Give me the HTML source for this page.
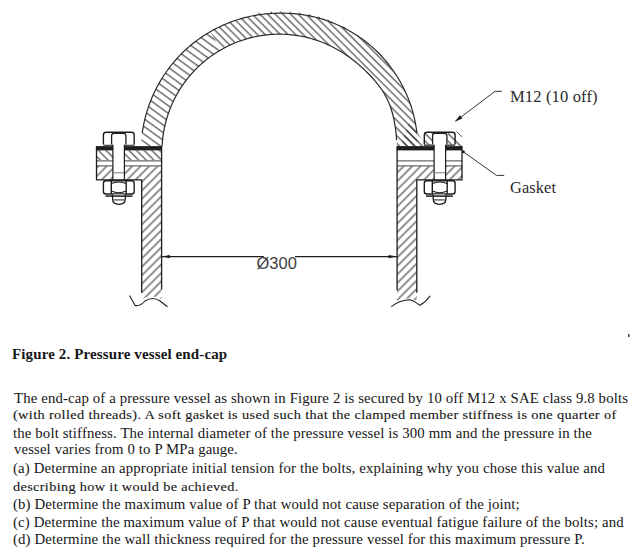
<!DOCTYPE html>
<html><head><meta charset="utf-8">
<style>
html,body{margin:0;padding:0;background:#fff;}
body{width:632px;height:558px;position:relative;overflow:hidden;}
svg{position:absolute;left:0;top:0;}
.t{position:absolute;white-space:nowrap;font-family:"Liberation Serif",serif;color:#161616;line-height:1;}
</style></head><body>
<svg width="632" height="558" viewBox="0 0 632 558">
<defs>
<pattern id="hb" patternUnits="userSpaceOnUse" width="5.4" height="20" patternTransform="rotate(-45)">
<line x1="1" y1="0" x2="1" y2="20" stroke="#262626" stroke-width="1.0"/>
</pattern>
<pattern id="hf" patternUnits="userSpaceOnUse" width="6.0" height="20" patternTransform="rotate(45)">
<line x1="1" y1="0" x2="1" y2="20" stroke="#262626" stroke-width="1.0"/>
</pattern>
<pattern id="hb2" patternUnits="userSpaceOnUse" width="6.2" height="20" patternTransform="rotate(-54)">
<line x1="1" y1="0" x2="1" y2="20" stroke="#262626" stroke-width="1.0"/>
</pattern>
</defs>

<clipPath id="cl"><polygon points="0,0 192,0 279.4,151.6 0,200"/></clipPath><clipPath id="cr"><polygon points="192,0 632,0 632,200 279.4,151.6"/></clipPath>
<path d="M141.11,146.20 L141.19,144.36 L141.34,141.95 L141.53,139.54 L141.76,137.13 L142.03,134.73 L142.35,132.34 L142.70,129.95 L143.10,127.57 L143.54,125.19 L144.02,122.83 L144.55,120.47 L145.11,118.12 L145.72,115.78 L146.36,113.45 L147.05,111.14 L147.77,108.83 L148.54,106.54 L149.35,104.26 L150.19,102.00 L151.08,99.75 L152.00,97.52 L152.97,95.31 L153.97,93.11 L155.01,90.93 L156.08,88.77 L157.20,86.63 L158.35,84.50 L159.54,82.40 L160.77,80.32 L162.03,78.26 L163.33,76.22 L164.66,74.21 L166.03,72.22 L167.43,70.25 L168.87,68.31 L170.34,66.39 L171.84,64.50 L173.38,62.64 L174.95,60.80 L176.55,58.99 L178.18,57.21 L179.84,55.46 L181.54,53.74 L183.26,52.04 L185.01,50.38 L186.79,48.75 L188.60,47.15 L190.44,45.58 L192.30,44.04 L194.19,42.54 L196.11,41.07 L198.05,39.63 L200.02,38.23 L202.01,36.86 L204.02,35.53 L206.06,34.23 L208.12,32.97 L210.20,31.74 L212.30,30.55 L214.43,29.40 L216.57,28.28 L218.73,27.21 L220.91,26.17 L223.11,25.17 L225.32,24.20 L227.55,23.28 L229.80,22.39 L232.06,21.55 L234.34,20.74 L236.63,19.97 L238.94,19.25 L241.25,18.56 L243.58,17.92 L245.92,17.31 L248.27,16.75 L250.63,16.22 L252.99,15.74 L255.37,15.30 L257.75,14.90 L260.14,14.55 L262.53,14.23 L264.93,13.96 L267.34,13.73 L269.75,13.54 L272.16,13.39 L274.57,13.28 L276.98,13.22 L279.40,13.20 L281.82,13.17 L284.23,13.19 L286.65,13.25 L289.07,13.34 L291.48,13.49 L293.90,13.67 L296.31,13.90 L298.71,14.17 L301.12,14.48 L303.52,14.84 L305.91,15.23 L308.29,15.67 L310.67,16.16 L313.04,16.68 L315.40,17.25 L317.75,17.86 L320.09,18.51 L322.42,19.20 L324.74,19.93 L327.04,20.71 L329.33,21.53 L331.61,22.39 L333.87,23.29 L336.11,24.23 L338.34,25.21 L340.55,26.23 L342.74,27.29 L344.91,28.39 L347.07,29.53 L349.20,30.70 L351.31,31.92 L353.40,33.18 L355.47,34.47 L357.51,35.80 L359.53,37.16 L361.52,38.57 L363.49,40.01 L365.43,41.48 L367.35,42.99 L369.24,44.54 L371.10,46.11 L372.93,47.73 L374.73,49.37 L376.50,51.05 L378.24,52.76 L379.95,54.50 L381.63,56.27 L383.27,58.07 L384.89,59.90 L386.46,61.76 L388.01,63.65 L389.52,65.57 L390.99,67.51 L392.43,69.48 L393.84,71.47 L395.20,73.49 L396.53,75.53 L397.82,77.60 L399.08,79.69 L400.30,81.80 L401.47,83.93 L402.61,86.09 L403.71,88.26 L404.77,90.45 L405.79,92.66 L406.77,94.89 L407.71,97.13 L408.61,99.39 L409.47,101.67 L410.29,103.96 L411.07,106.26 L411.80,108.58 L412.49,110.91 L413.14,113.25 L413.75,115.60 L414.32,117.96 L414.84,120.33 L415.33,122.71 L415.77,125.09 L416.16,127.48 L416.52,129.88 L416.83,132.29 L417.10,134.69 L417.33,137.10 L417.51,139.52 L417.66,141.93 L417.75,144.35 L417.69,146.20 L396.68,146.20 L396.87,145.44 L396.80,143.39 L396.70,141.34 L396.57,139.28 L396.42,137.23 L396.24,135.18 L396.03,133.13 L395.79,131.08 L395.53,129.03 L395.24,126.98 L394.92,124.93 L394.57,122.88 L394.19,120.84 L393.77,118.80 L393.32,116.77 L392.82,114.75 L392.28,112.73 L391.69,110.73 L391.06,108.74 L390.38,106.76 L389.65,104.80 L388.86,102.86 L388.03,100.95 L387.13,99.05 L386.19,97.19 L385.20,95.35 L384.15,93.53 L383.06,91.75 L381.92,90.00 L380.74,88.27 L379.52,86.58 L378.27,84.91 L376.98,83.28 L375.66,81.66 L374.31,80.08 L372.94,78.52 L371.54,76.99 L370.12,75.47 L368.69,73.98 L367.23,72.52 L365.76,71.07 L364.27,69.64 L362.76,68.24 L361.24,66.85 L359.70,65.49 L358.15,64.14 L356.58,62.82 L354.99,61.52 L353.38,60.24 L351.75,58.99 L350.11,57.76 L348.45,56.56 L346.77,55.38 L345.07,54.23 L343.36,53.11 L341.63,52.02 L339.88,50.95 L338.11,49.92 L336.32,48.91 L334.52,47.94 L332.70,46.99 L330.87,46.08 L329.02,45.20 L327.15,44.35 L325.27,43.53 L323.38,42.75 L321.47,42.00 L319.55,41.28 L317.62,40.60 L315.68,39.95 L313.72,39.33 L311.76,38.75 L309.79,38.20 L307.80,37.69 L305.81,37.21 L303.81,36.77 L301.80,36.36 L299.79,35.98 L297.77,35.65 L295.74,35.34 L293.71,35.08 L291.67,34.84 L289.63,34.65 L287.59,34.49 L285.54,34.36 L283.50,34.27 L281.45,34.22 L279.40,34.20 L277.35,34.22 L275.30,34.27 L273.26,34.36 L271.21,34.49 L269.17,34.65 L267.13,34.84 L265.09,35.08 L263.06,35.34 L261.03,35.65 L259.01,35.98 L257.00,36.36 L254.99,36.77 L252.99,37.21 L251.00,37.69 L249.01,38.20 L247.04,38.75 L245.08,39.33 L243.12,39.95 L241.18,40.60 L239.25,41.28 L237.33,42.00 L235.42,42.75 L233.53,43.53 L231.65,44.35 L229.78,45.20 L227.94,46.08 L226.10,47.00 L224.28,47.94 L222.48,48.92 L220.70,49.93 L218.93,50.97 L217.19,52.04 L215.46,53.14 L213.75,54.27 L212.06,55.43 L210.39,56.62 L208.75,57.84 L207.12,59.09 L205.52,60.36 L203.94,61.67 L202.38,63.00 L200.84,64.35 L199.33,65.74 L197.85,67.15 L196.39,68.59 L194.95,70.05 L193.54,71.53 L192.15,73.04 L190.80,74.58 L189.47,76.14 L188.16,77.72 L186.89,79.32 L185.64,80.95 L184.42,82.59 L183.23,84.26 L182.07,85.95 L180.94,87.66 L179.84,89.39 L178.77,91.13 L177.73,92.90 L176.72,94.68 L175.74,96.48 L174.80,98.30 L173.88,100.14 L173.00,101.98 L172.15,103.85 L171.33,105.73 L170.55,107.62 L169.80,109.53 L169.08,111.45 L168.40,113.38 L167.75,115.32 L167.13,117.28 L166.55,119.24 L166.00,121.21 L165.49,123.20 L165.01,125.19 L164.57,127.19 L164.16,129.20 L163.78,131.21 L163.45,133.23 L163.14,135.26 L162.88,137.29 L162.64,139.33 L162.45,141.37 L162.29,143.41 L162.16,145.46 L162.12,146.20 Z" fill="url(#hb2)" clip-path="url(#cl)"/>
<path d="M141.11,146.20 L141.19,144.36 L141.34,141.95 L141.53,139.54 L141.76,137.13 L142.03,134.73 L142.35,132.34 L142.70,129.95 L143.10,127.57 L143.54,125.19 L144.02,122.83 L144.55,120.47 L145.11,118.12 L145.72,115.78 L146.36,113.45 L147.05,111.14 L147.77,108.83 L148.54,106.54 L149.35,104.26 L150.19,102.00 L151.08,99.75 L152.00,97.52 L152.97,95.31 L153.97,93.11 L155.01,90.93 L156.08,88.77 L157.20,86.63 L158.35,84.50 L159.54,82.40 L160.77,80.32 L162.03,78.26 L163.33,76.22 L164.66,74.21 L166.03,72.22 L167.43,70.25 L168.87,68.31 L170.34,66.39 L171.84,64.50 L173.38,62.64 L174.95,60.80 L176.55,58.99 L178.18,57.21 L179.84,55.46 L181.54,53.74 L183.26,52.04 L185.01,50.38 L186.79,48.75 L188.60,47.15 L190.44,45.58 L192.30,44.04 L194.19,42.54 L196.11,41.07 L198.05,39.63 L200.02,38.23 L202.01,36.86 L204.02,35.53 L206.06,34.23 L208.12,32.97 L210.20,31.74 L212.30,30.55 L214.43,29.40 L216.57,28.28 L218.73,27.21 L220.91,26.17 L223.11,25.17 L225.32,24.20 L227.55,23.28 L229.80,22.39 L232.06,21.55 L234.34,20.74 L236.63,19.97 L238.94,19.25 L241.25,18.56 L243.58,17.92 L245.92,17.31 L248.27,16.75 L250.63,16.22 L252.99,15.74 L255.37,15.30 L257.75,14.90 L260.14,14.55 L262.53,14.23 L264.93,13.96 L267.34,13.73 L269.75,13.54 L272.16,13.39 L274.57,13.28 L276.98,13.22 L279.40,13.20 L281.82,13.17 L284.23,13.19 L286.65,13.25 L289.07,13.34 L291.48,13.49 L293.90,13.67 L296.31,13.90 L298.71,14.17 L301.12,14.48 L303.52,14.84 L305.91,15.23 L308.29,15.67 L310.67,16.16 L313.04,16.68 L315.40,17.25 L317.75,17.86 L320.09,18.51 L322.42,19.20 L324.74,19.93 L327.04,20.71 L329.33,21.53 L331.61,22.39 L333.87,23.29 L336.11,24.23 L338.34,25.21 L340.55,26.23 L342.74,27.29 L344.91,28.39 L347.07,29.53 L349.20,30.70 L351.31,31.92 L353.40,33.18 L355.47,34.47 L357.51,35.80 L359.53,37.16 L361.52,38.57 L363.49,40.01 L365.43,41.48 L367.35,42.99 L369.24,44.54 L371.10,46.11 L372.93,47.73 L374.73,49.37 L376.50,51.05 L378.24,52.76 L379.95,54.50 L381.63,56.27 L383.27,58.07 L384.89,59.90 L386.46,61.76 L388.01,63.65 L389.52,65.57 L390.99,67.51 L392.43,69.48 L393.84,71.47 L395.20,73.49 L396.53,75.53 L397.82,77.60 L399.08,79.69 L400.30,81.80 L401.47,83.93 L402.61,86.09 L403.71,88.26 L404.77,90.45 L405.79,92.66 L406.77,94.89 L407.71,97.13 L408.61,99.39 L409.47,101.67 L410.29,103.96 L411.07,106.26 L411.80,108.58 L412.49,110.91 L413.14,113.25 L413.75,115.60 L414.32,117.96 L414.84,120.33 L415.33,122.71 L415.77,125.09 L416.16,127.48 L416.52,129.88 L416.83,132.29 L417.10,134.69 L417.33,137.10 L417.51,139.52 L417.66,141.93 L417.75,144.35 L417.69,146.20 L396.68,146.20 L396.87,145.44 L396.80,143.39 L396.70,141.34 L396.57,139.28 L396.42,137.23 L396.24,135.18 L396.03,133.13 L395.79,131.08 L395.53,129.03 L395.24,126.98 L394.92,124.93 L394.57,122.88 L394.19,120.84 L393.77,118.80 L393.32,116.77 L392.82,114.75 L392.28,112.73 L391.69,110.73 L391.06,108.74 L390.38,106.76 L389.65,104.80 L388.86,102.86 L388.03,100.95 L387.13,99.05 L386.19,97.19 L385.20,95.35 L384.15,93.53 L383.06,91.75 L381.92,90.00 L380.74,88.27 L379.52,86.58 L378.27,84.91 L376.98,83.28 L375.66,81.66 L374.31,80.08 L372.94,78.52 L371.54,76.99 L370.12,75.47 L368.69,73.98 L367.23,72.52 L365.76,71.07 L364.27,69.64 L362.76,68.24 L361.24,66.85 L359.70,65.49 L358.15,64.14 L356.58,62.82 L354.99,61.52 L353.38,60.24 L351.75,58.99 L350.11,57.76 L348.45,56.56 L346.77,55.38 L345.07,54.23 L343.36,53.11 L341.63,52.02 L339.88,50.95 L338.11,49.92 L336.32,48.91 L334.52,47.94 L332.70,46.99 L330.87,46.08 L329.02,45.20 L327.15,44.35 L325.27,43.53 L323.38,42.75 L321.47,42.00 L319.55,41.28 L317.62,40.60 L315.68,39.95 L313.72,39.33 L311.76,38.75 L309.79,38.20 L307.80,37.69 L305.81,37.21 L303.81,36.77 L301.80,36.36 L299.79,35.98 L297.77,35.65 L295.74,35.34 L293.71,35.08 L291.67,34.84 L289.63,34.65 L287.59,34.49 L285.54,34.36 L283.50,34.27 L281.45,34.22 L279.40,34.20 L277.35,34.22 L275.30,34.27 L273.26,34.36 L271.21,34.49 L269.17,34.65 L267.13,34.84 L265.09,35.08 L263.06,35.34 L261.03,35.65 L259.01,35.98 L257.00,36.36 L254.99,36.77 L252.99,37.21 L251.00,37.69 L249.01,38.20 L247.04,38.75 L245.08,39.33 L243.12,39.95 L241.18,40.60 L239.25,41.28 L237.33,42.00 L235.42,42.75 L233.53,43.53 L231.65,44.35 L229.78,45.20 L227.94,46.08 L226.10,47.00 L224.28,47.94 L222.48,48.92 L220.70,49.93 L218.93,50.97 L217.19,52.04 L215.46,53.14 L213.75,54.27 L212.06,55.43 L210.39,56.62 L208.75,57.84 L207.12,59.09 L205.52,60.36 L203.94,61.67 L202.38,63.00 L200.84,64.35 L199.33,65.74 L197.85,67.15 L196.39,68.59 L194.95,70.05 L193.54,71.53 L192.15,73.04 L190.80,74.58 L189.47,76.14 L188.16,77.72 L186.89,79.32 L185.64,80.95 L184.42,82.59 L183.23,84.26 L182.07,85.95 L180.94,87.66 L179.84,89.39 L178.77,91.13 L177.73,92.90 L176.72,94.68 L175.74,96.48 L174.80,98.30 L173.88,100.14 L173.00,101.98 L172.15,103.85 L171.33,105.73 L170.55,107.62 L169.80,109.53 L169.08,111.45 L168.40,113.38 L167.75,115.32 L167.13,117.28 L166.55,119.24 L166.00,121.21 L165.49,123.20 L165.01,125.19 L164.57,127.19 L164.16,129.20 L163.78,131.21 L163.45,133.23 L163.14,135.26 L162.88,137.29 L162.64,139.33 L162.45,141.37 L162.29,143.41 L162.16,145.46 L162.12,146.20 Z" fill="url(#hb)" clip-path="url(#cr)"/>
<polygon points="410,120 415.7,129.7 424.8,143.6 424.8,146.2 400,146.2" fill="url(#hb)"/>
<rect x="425" y="133" width="8.3" height="13" fill="url(#hb)"/>
<rect x="447.5" y="133" width="7.5" height="13" fill="url(#hb)"/>
<polygon points="455,136 462,143 462,146.2 455,146.2" fill="url(#hb)"/>
<rect x="96.5" y="150.3" width="65" height="9.9" fill="url(#hb)"/>
<rect x="96.5" y="166" width="65" height="13.8" fill="url(#hf)"/>
<rect x="397" y="166" width="65.2" height="13.8" fill="url(#hf)"/>
<path d="M141.7,179.8 H161.4 V289 L161.4,299 Q158,297 153,296.6 Q147,296.6 141.7,299 Z" fill="url(#hf)"/>
<path d="M397.1,179.8 H416.8 V301 Q410,297.5 403,299 L397.1,301 Z" fill="url(#hf)"/>
<path d="M96.5,160.8 H161.4 M96.5,165.8 H161.4 M397.1,160.8 H462 M397.1,165.8 H462" stroke="#6a6a6a" stroke-width="1.2" fill="none"/>
<rect x="96.5" y="146.1" width="65.2" height="4.3" fill="#1f1f1f"/><rect x="103.5" y="144.4" width="31" height="1.8" fill="#555"/>
<g transform="matrix(-1,0,0,1,558.5,0)"><rect x="96.5" y="146.1" width="65.2" height="4.3" fill="#1f1f1f"/><rect x="103.5" y="144.4" width="31" height="1.8" fill="#555"/></g>
<g fill="none" stroke="#1c1c1c" stroke-width="1.3">
<rect x="113" y="144" width="11.3" height="35.5" fill="#fff" stroke="none"/>
<path d="M112.9,144.4 V179.8 M124.4,144.4 V179.8" stroke-width="1.2"/>
<path d="M113.2,172.8 H124.1" stroke="#808080" stroke-width="1.1"/>
<path d="M103.4,144.6 V134.9 Q103.4,132.2 106.1,132.2 H131.5 Q134.2,132.2 134.2,134.9 V144.6" fill="#fff" stroke-width="1.4"/>
<path d="M111.6,144.6 V135.6 Q111.6,133.3 114,133.3 H123.5 Q125.9,133.3 125.9,135.6 V144.6" stroke-width="1.3"/>
<path d="M103.4,183.2 Q103.4,180.7 105.9,180.7 H131.7 Q134.2,180.7 134.2,183.2 V191.5 Q134.2,194 131.7,194 H105.9 Q103.4,194 103.4,191.5 Z" fill="#fff" stroke-width="1.4"/>
<path d="M111.3,181 V193.7 M126.2,181 V193.7" stroke-width="1.4"/>
<path d="M111.3,183.6 Q118.75,180.4 126.2,183.6 M111.3,191.1 Q118.75,194.3 126.2,191.1" stroke-width="1.1"/>
<path d="M112.6,194.5 V199 Q112.6,204.3 118.9,204.3 Q125.3,204.3 125.3,199 V194.5" fill="#fff" stroke-width="1.3"/>
<path d="M105.6,196.1 H132.5" stroke-width="1.5"/>
<path d="M113.2,199.9 H124.6" stroke="#555" stroke-width="1.3"/>
</g>
<g transform="matrix(-1,0,0,1,558.5,0)"><g fill="none" stroke="#1c1c1c" stroke-width="1.3">
<rect x="113" y="144" width="11.3" height="35.5" fill="#fff" stroke="none"/>
<path d="M112.9,144.4 V179.8 M124.4,144.4 V179.8" stroke-width="1.2"/>
<path d="M113.2,172.8 H124.1" stroke="#808080" stroke-width="1.1"/>
<path d="M103.4,144.6 V134.9 Q103.4,132.2 106.1,132.2 H131.5 Q134.2,132.2 134.2,134.9 V144.6" fill="none" stroke-width="1.4"/>
<path fill="#fff" d="M111.6,144.6 V135.6 Q111.6,133.3 114,133.3 H123.5 Q125.9,133.3 125.9,135.6 V144.6" stroke-width="1.3"/>
<path d="M103.4,183.2 Q103.4,180.7 105.9,180.7 H131.7 Q134.2,180.7 134.2,183.2 V191.5 Q134.2,194 131.7,194 H105.9 Q103.4,194 103.4,191.5 Z" fill="#fff" stroke-width="1.4"/>
<path d="M111.3,181 V193.7 M126.2,181 V193.7" stroke-width="1.4"/>
<path d="M111.3,183.6 Q118.75,180.4 126.2,183.6 M111.3,191.1 Q118.75,194.3 126.2,191.1" stroke-width="1.1"/>
<path d="M112.6,194.5 V199 Q112.6,204.3 118.9,204.3 Q125.3,204.3 125.3,199 V194.5" fill="#fff" stroke-width="1.3"/>
<path d="M105.6,196.1 H132.5" stroke-width="1.5"/>
<path d="M113.2,199.9 H124.6" stroke="#555" stroke-width="1.3"/>
</g></g>
<g fill="none" stroke="#1c1c1c" stroke-width="1.3">
<path d="M142.26,133.00 L142.35,132.34 L142.70,129.95 L143.10,127.57 L143.54,125.19 L144.02,122.83 L144.55,120.47 L145.11,118.12 L145.72,115.78 L146.36,113.45 L147.05,111.14 L147.77,108.83 L148.54,106.54 L149.35,104.26 L150.19,102.00 L151.08,99.75 L152.00,97.52 L152.97,95.31 L153.97,93.11 L155.01,90.93 L156.08,88.77 L157.20,86.63 L158.35,84.50 L159.54,82.40 L160.77,80.32 L162.03,78.26 L163.33,76.22 L164.66,74.21 L166.03,72.22 L167.43,70.25 L168.87,68.31 L170.34,66.39 L171.84,64.50 L173.38,62.64 L174.95,60.80 L176.55,58.99 L178.18,57.21 L179.84,55.46 L181.54,53.74 L183.26,52.04 L185.01,50.38 L186.79,48.75 L188.60,47.15 L190.44,45.58 L192.30,44.04 L194.19,42.54 L196.11,41.07 L198.05,39.63 L200.02,38.23 L202.01,36.86 L204.02,35.53 L206.06,34.23 L208.12,32.97 L210.20,31.74 L212.30,30.55 L214.43,29.40 L216.57,28.28 L218.73,27.21 L220.91,26.17 L223.11,25.17 L225.32,24.20 L227.55,23.28 L229.80,22.39 L232.06,21.55 L234.34,20.74 L236.63,19.97 L238.94,19.25 L241.25,18.56 L243.58,17.92 L245.92,17.31 L248.27,16.75 L250.63,16.22 L252.99,15.74 L255.37,15.30 L257.75,14.90 L260.14,14.55 L262.53,14.23 L264.93,13.96 L267.34,13.73 L269.75,13.54 L272.16,13.39 L274.57,13.28 L276.98,13.22 L279.40,13.20 L281.82,13.17 L284.23,13.19 L286.65,13.25 L289.07,13.34 L291.48,13.49 L293.90,13.67 L296.31,13.90 L298.71,14.17 L301.12,14.48 L303.52,14.84 L305.91,15.23 L308.29,15.67 L310.67,16.16 L313.04,16.68 L315.40,17.25 L317.75,17.86 L320.09,18.51 L322.42,19.20 L324.74,19.93 L327.04,20.71 L329.33,21.53 L331.61,22.39 L333.87,23.29 L336.11,24.23 L338.34,25.21 L340.55,26.23 L342.74,27.29 L344.91,28.39 L347.07,29.53 L349.20,30.70 L351.31,31.92 L353.40,33.18 L355.47,34.47 L357.51,35.80 L359.53,37.16 L361.52,38.57 L363.49,40.01 L365.43,41.48 L367.35,42.99 L369.24,44.54 L371.10,46.11 L372.93,47.73 L374.73,49.37 L376.50,51.05 L378.24,52.76 L379.95,54.50 L381.63,56.27 L383.27,58.07 L384.89,59.90 L386.46,61.76 L388.01,63.65 L389.52,65.57 L390.99,67.51 L392.43,69.48 L393.84,71.47 L395.20,73.49 L396.53,75.53 L397.82,77.60 L399.08,79.69 L400.30,81.80 L401.47,83.93 L402.61,86.09 L403.71,88.26 L404.77,90.45 L405.79,92.66 L406.77,94.89 L407.71,97.13 L408.61,99.39 L409.47,101.67 L410.29,103.96 L411.07,106.26 L411.80,108.58 L412.49,110.91 L413.14,113.25 L413.75,115.60 L414.32,117.96 L414.84,120.33 L415.33,122.71 L415.77,125.09 L416.16,127.48 L416.52,129.88 L416.83,132.29 L416.54,133.00" stroke="#2a2a2a" stroke-width="1.2"/>
<path d="M162.12,146.20 L162.16,145.46 L162.29,143.41 L162.45,141.37 L162.64,139.33 L162.88,137.29 L163.14,135.26 L163.45,133.23 L163.78,131.21 L164.16,129.20 L164.57,127.19 L165.01,125.19 L165.49,123.20 L166.00,121.21 L166.55,119.24 L167.13,117.28 L167.75,115.32 L168.40,113.38 L169.08,111.45 L169.80,109.53 L170.55,107.62 L171.33,105.73 L172.15,103.85 L173.00,101.98 L173.88,100.14 L174.80,98.30 L175.74,96.48 L176.72,94.68 L177.73,92.90 L178.77,91.13 L179.84,89.39 L180.94,87.66 L182.07,85.95 L183.23,84.26 L184.42,82.59 L185.64,80.95 L186.89,79.32 L188.16,77.72 L189.47,76.14 L190.80,74.58 L192.15,73.04 L193.54,71.53 L194.95,70.05 L196.39,68.59 L197.85,67.15 L199.33,65.74 L200.84,64.35 L202.38,63.00 L203.94,61.67 L205.52,60.36 L207.12,59.09 L208.75,57.84 L210.39,56.62 L212.06,55.43 L213.75,54.27 L215.46,53.14 L217.19,52.04 L218.93,50.97 L220.70,49.93 L222.48,48.92 L224.28,47.94 L226.10,47.00 L227.94,46.08 L229.78,45.20 L231.65,44.35 L233.53,43.53 L235.42,42.75 L237.33,42.00 L239.25,41.28 L241.18,40.60 L243.12,39.95 L245.08,39.33 L247.04,38.75 L249.01,38.20 L251.00,37.69 L252.99,37.21 L254.99,36.77 L257.00,36.36 L259.01,35.98 L261.03,35.65 L263.06,35.34 L265.09,35.08 L267.13,34.84 L269.17,34.65 L271.21,34.49 L273.26,34.36 L275.30,34.27 L277.35,34.22 L279.40,34.20 L281.45,34.22 L283.50,34.27 L285.54,34.36 L287.59,34.49 L289.63,34.65 L291.67,34.84 L293.71,35.08 L295.74,35.34 L297.77,35.65 L299.79,35.98 L301.80,36.36 L303.81,36.77 L305.81,37.21 L307.80,37.69 L309.79,38.20 L311.76,38.75 L313.72,39.33 L315.68,39.95 L317.62,40.60 L319.55,41.28 L321.47,42.00 L323.38,42.75 L325.27,43.53 L327.15,44.35 L329.02,45.20 L330.87,46.08 L332.70,46.99 L334.52,47.94 L336.32,48.91 L338.11,49.92 L339.88,50.95 L341.63,52.02 L343.36,53.11 L345.07,54.23 L346.77,55.38 L348.45,56.56 L350.11,57.76 L351.75,58.99 L353.38,60.24 L354.99,61.52 L356.58,62.82 L358.15,64.14 L359.70,65.49 L361.24,66.85 L362.76,68.24 L364.27,69.64 L365.76,71.07 L367.23,72.52 L368.69,73.98 L370.12,75.47 L371.54,76.99 L372.94,78.52 L374.31,80.08 L375.66,81.66 L376.98,83.28 L378.27,84.91 L379.52,86.58 L380.74,88.27 L381.92,90.00 L383.06,91.75 L384.15,93.53 L385.20,95.35 L386.19,97.19 L387.13,99.05 L388.03,100.95 L388.86,102.86 L389.65,104.80 L390.38,106.76 L391.06,108.74 L391.69,110.73 L392.28,112.73 L392.82,114.75 L393.32,116.77 L393.77,118.80 L394.19,120.84 L394.57,122.88 L394.92,124.93 L395.24,126.98 L395.53,129.03 L395.79,131.08 L396.03,133.13 L396.24,135.18 L396.42,137.23 L396.57,139.28 L396.23,140.00" stroke="#2a2a2a" stroke-width="1.2"/>
<path d="M96.5,146 V179.8 H141.7 V292.8"/>
<path d="M161.6,146 V289.4"/>
<path d="M462,146 V179.8 H416.8 V292.8"/>
<path d="M397.1,146 V290.3"/>
<path d="M129.5,295.6 L135.2,305.5 Q140,306.5 145,301 Q153,296 160,301 L167.5,306.7" stroke-width="1.1"/>
<path d="M391.3,306.6 Q400,300 410,299.8 Q415,301 420,305.3 Q426,302 430.2,295.8" stroke-width="1.1"/>
<path d="M161.4,256.6 H263.8 M295,256.6 H397.1" stroke-width="1.2"/>
<path d="M258.54,12.75 L260.94,15.15 M270.56,11.59 L272.96,13.99 M280.22,11.37 L282.62,13.77 M289.88,11.69 L292.28,14.09 M299.52,12.68 L301.92,15.08 M309.07,14.36 L311.47,16.76 M318.49,16.71 L320.89,19.11 M327.73,19.73 L330.13,22.13 M343.31,26.59 L345.71,28.99 M363.83,39.68 L366.23,42.08 M384.86,59.96 L387.26,62.36" stroke="#333" stroke-width="1"/>
</g>
<path d="M161.6,256.6 L170,254.9 L170,258.3 Z M396.9,256.6 L388.5,254.9 L388.5,258.3 Z" fill="#1c1c1c"/>
<path d="M456.5,131.4 L462.2,137" stroke="#555" stroke-width="1"/>
<path d="M501.9,91.3 H495.1 L456,120.8" fill="none" stroke="#333" stroke-width="1.0"/>
<path d="M454.6,121.8 L460.0,115.3 L462.4,118.5 Z" fill="#1c1c1c"/>
<path d="M462.2,151 L496.5,175.4 H504.2" fill="none" stroke="#333" stroke-width="1.0"/>
<circle cx="463.3" cy="151.7" r="1.5" fill="#1c1c1c"/>
<rect x="628" y="334" width="1.5" height="3" fill="#444"/>
<text x="256.5" y="268.8" font-family="Liberation Sans" font-size="16.5" fill="#404040">Ø300</text>
</svg>
<div class="t" id="m12" style="left:510.40px;top:89.00px;font-size:16px;font-weight:normal;letter-spacing:0.120px;transform-origin:0 0;transform:scaleX(1.0361);color:#2a2a2a;">M12 (10 off)</div>
<div class="t" id="gas" style="left:510.40px;top:180.00px;font-size:16px;font-weight:normal;letter-spacing:0.120px;transform-origin:0 0;transform:scaleX(1.0227);color:#2a2a2a;">Gasket</div>
<div class="t" id="fig" style="left:12.40px;top:347.50px;font-size:14px;font-weight:bold;letter-spacing:0.120px;transform-origin:0 0;transform:scaleX(1.0704);">Figure 2. Pressure vessel end-cap</div>
<div class="t" id="b1" style="left:14.00px;top:391.50px;font-size:14px;font-weight:normal;letter-spacing:0.120px;transform-origin:0 0;transform:scaleX(1.0569);">The end-cap of a pressure vessel as shown in Figure 2 is secured by 10 off M12 x SAE class 9.8 bolts</div>
<div class="t" id="b2" style="left:13.00px;top:409.00px;font-size:12.5px;font-weight:normal;letter-spacing:0.300px;transform-origin:0 0;transform:scaleX(1.1479);-webkit-text-stroke:0.12px #222;">(with rolled threads). A soft gasket is used such that the clamped member stiffness is one quarter of</div>
<div class="t" id="b3" style="left:13.00px;top:426.70px;font-size:14px;font-weight:normal;letter-spacing:0.120px;transform-origin:0 0;transform:scaleX(1.0586);">the bolt stiffness. The internal diameter of the pressure vessel is 300 mm and the pressure in the</div>
<div class="t" id="b4" style="left:13.70px;top:442.50px;font-size:14px;font-weight:normal;letter-spacing:0.120px;transform-origin:0 0;transform:scaleX(1.0548);">vessel varies from 0 to P MPa gauge.</div>
<div class="t" id="b5" style="left:13.20px;top:462.20px;font-size:14px;font-weight:normal;letter-spacing:0.120px;transform-origin:0 0;transform:scaleX(1.0572);">(a) Determine an appropriate initial tension for the bolts, explaining why you chose this value and</div>
<div class="t" id="b6" style="left:13.00px;top:480.70px;font-size:12.5px;font-weight:normal;letter-spacing:0.300px;transform-origin:0 0;transform:scaleX(1.1422);-webkit-text-stroke:0.12px #222;">describing how it would be achieved.</div>
<div class="t" id="b7" style="left:13.00px;top:498.00px;font-size:14px;font-weight:normal;letter-spacing:0.120px;transform-origin:0 0;transform:scaleX(1.0599);">(b) Determine the maximum value of P that would not cause separation of the joint;</div>
<div class="t" id="b8" style="left:13.00px;top:515.70px;font-size:14px;font-weight:normal;letter-spacing:0.120px;transform-origin:0 0;transform:scaleX(1.0582);">(c) Determine the maximum value of P that would not cause eventual fatigue failure of the bolts; and</div>
<div class="t" id="b9" style="left:13.00px;top:532.80px;font-size:14px;font-weight:normal;letter-spacing:0.120px;transform-origin:0 0;transform:scaleX(1.0595);">(d) Determine the wall thickness required for the pressure vessel for this maximum pressure P.</div>

</body></html>
